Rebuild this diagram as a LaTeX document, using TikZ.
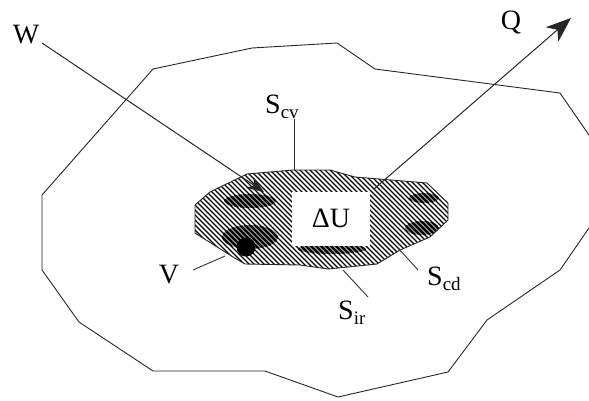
\documentclass[tikz,border=0pt]{standalone}
\usepackage{fontspec}
\setmainfont{Liberation Serif}
\usetikzlibrary{arrows.meta}
\newcommand\lowsub[1]{\raisebox{-5pt}{\fontsize{19}{19}\selectfont #1}}
\tikzset{
  outline/.style={draw=black!85, line width=0.9pt, line join=miter},
  lbl/.style={font=\fontsize{28}{30}\selectfont, inner sep=0pt},
  leader/.style={draw=black!80, line width=0.9pt},
  hatch/.style={line width=1.4pt, black},
  darkhatch/.style={line width=2.5pt, black},
  flow/.style={draw=black!85, line width=1pt},
}
\begin{document}
\begin{tikzpicture}[x=1pt,y=-1pt]
\useasboundingbox (0,0) rectangle (589,400);
\begin{scope}
\clip (0,0) rectangle (589,400);
% outer boundary
\draw[outline] (153,69) -- (252,48) -- (337,43) -- (375,69) -- (560,93) -- (600,151)
  -- (600,212) -- (560,270) -- (487,320) -- (448,372) -- (338,397) -- (265,371)
  -- (153,371) -- (79,322) -- (42,270) -- (42,195) -- cycle;
\end{scope}
% inner hatched region
\def\inner{(195,205) -- (210,192) -- (247,174) -- (293,170) -- (330,170) -- (355,177)
  -- (427,183) -- (448,203) -- (448,220) -- (430,237) -- (400,250) -- (377,264)
  -- (328,269) -- (300,265) -- (245,264) -- (233,257) -- (195,233) -- cycle}
\begin{scope}
\clip \inner;
\foreach \c in {40,45,...,470}{
  \draw[hatch] (\c,150) -- ++(140,140);
}
\begin{scope}
\clip (250,201) ellipse (26 and 7) (250,237) ellipse (28 and 12)
      (332,249) ellipse (34 and 5) (424,198) ellipse (15 and 5) (422,228) ellipse (17 and 7);
\foreach \c in {40,45,...,470}{
  \draw[darkhatch] (\c,150) -- ++(140,140);
}
\end{scope}
\end{scope}
\draw[outline] \inner;
% white box with Delta U
\fill[white] (292,192) rectangle (370,246);
\node[lbl] (dU) at (331,218) {ΔU};
% dot V
\fill[black] (246,247) circle (9.5);
\coordinate (vdot) at (225,256);
% labels
\node[lbl, anchor=base] (W) at (26,43) {W};
\node[lbl, anchor=base] (Q) at (511,29) {Q};
\node[lbl, anchor=base] (V) at (169,283) {V};
\node[lbl, anchor=base west] (Scv) at (265,113) {S\lowsub{cv}};
\node[lbl, anchor=base west] (Scd) at (427,285) {S\lowsub{cd}};
\node[lbl, anchor=base west] (Sir) at (338,319) {S\lowsub{ir}};
% leader lines
\coordinate (scvA) at (294,119); \coordinate (scvB) at (294,171);
\draw[leader] (scvA) -- (scvB);
\coordinate (vA) at (193,270);
\draw[leader] (vA) -- (vdot);
\coordinate (sirA) at (368,297); \coordinate (sirB) at (343,270);
\draw[leader] (sirA) -- (sirB);
\coordinate (scdA) at (418,270); \coordinate (scdB) at (398,248);
\draw[leader] (scdA) -- (scdB);
% W and Q arrows
\coordinate (wstart) at (42,43); \coordinate (wend) at (264,192);
\draw[flow, -{Stealth[length=17pt,width=13pt,inset=5pt]}] (wstart) -- (wend);
\coordinate (qstart) at (374,189); \coordinate (qend) at (571,18);
\draw[flow, -{Stealth[length=25pt,width=19pt,inset=7pt]}] (qstart) -- (qend);
\end{tikzpicture}
\end{document}
